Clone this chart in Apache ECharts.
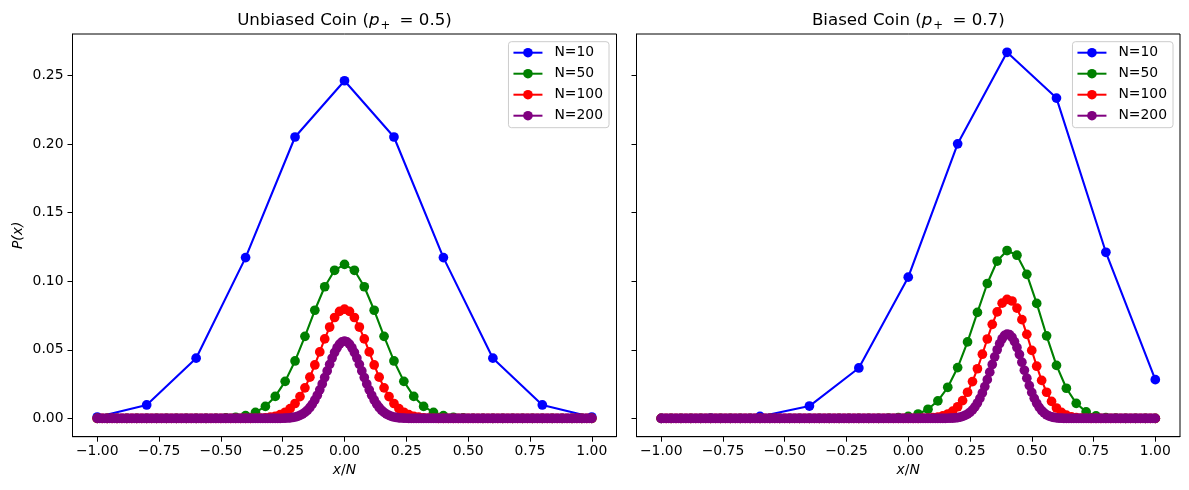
<!DOCTYPE html>
<html><head><meta charset="utf-8">
<script src="https://cdn.jsdelivr.net/npm/echarts@6/dist/echarts.min.js"></script>
<style>html,body{margin:0;padding:0;background:#fff}#c{width:1189px;height:490px}</style>
</head><body><div id="c"></div>
<script>
// ---------- data ----------
const SERIES_NAMES = ['N=10', 'N=50', 'N=100', 'N=200'];
const SERIES_COLORS = ['#0000ff', '#008000', '#ff0000', '#800080'];
const X_TICKS = [-1, -0.75, -0.5, -0.25, 0, 0.25, 0.5, 0.75, 1];
const Y_TICKS = [0, 0.05, 0.1, 0.15, 0.2, 0.25];
const TITLES = ['Unbiased Coin', 'Biased Coin'];
const P_VALUES = ['0.5', '0.7'];

const X10 = [-1,-0.8,-0.6,-0.4,-0.2,0,0.2,0.4,0.6,0.8,1];
const X50 = [
-1,-0.96,-0.92,-0.88,-0.84,-0.8,-0.76,-0.72,-0.68,-0.64,
-0.6,-0.56,-0.52,-0.48,-0.44,-0.4,-0.36,-0.32,-0.28,-0.24,
-0.2,-0.16,-0.12,-0.08,-0.04,0,0.04,0.08,0.12,0.16,
0.2,0.24,0.28,0.32,0.36,0.4,0.44,0.48,0.52,0.56,
0.6,0.64,0.68,0.72,0.76,0.8,0.84,0.88,0.92,0.96,
1];
const X100 = [
-1,-0.98,-0.96,-0.94,-0.92,-0.9,-0.88,-0.86,-0.84,-0.82,
-0.8,-0.78,-0.76,-0.74,-0.72,-0.7,-0.68,-0.66,-0.64,-0.62,
-0.6,-0.58,-0.56,-0.54,-0.52,-0.5,-0.48,-0.46,-0.44,-0.42,
-0.4,-0.38,-0.36,-0.34,-0.32,-0.3,-0.28,-0.26,-0.24,-0.22,
-0.2,-0.18,-0.16,-0.14,-0.12,-0.1,-0.08,-0.06,-0.04,-0.02,
0,0.02,0.04,0.06,0.08,0.1,0.12,0.14,0.16,0.18,
0.2,0.22,0.24,0.26,0.28,0.3,0.32,0.34,0.36,0.38,
0.4,0.42,0.44,0.46,0.48,0.5,0.52,0.54,0.56,0.58,
0.6,0.62,0.64,0.66,0.68,0.7,0.72,0.74,0.76,0.78,
0.8,0.82,0.84,0.86,0.88,0.9,0.92,0.94,0.96,0.98,
1];
const X200 = [
-1,-0.99,-0.98,-0.97,-0.96,-0.95,-0.94,-0.93,-0.92,-0.91,
-0.9,-0.89,-0.88,-0.87,-0.86,-0.85,-0.84,-0.83,-0.82,-0.81,
-0.8,-0.79,-0.78,-0.77,-0.76,-0.75,-0.74,-0.73,-0.72,-0.71,
-0.7,-0.69,-0.68,-0.67,-0.66,-0.65,-0.64,-0.63,-0.62,-0.61,
-0.6,-0.59,-0.58,-0.57,-0.56,-0.55,-0.54,-0.53,-0.52,-0.51,
-0.5,-0.49,-0.48,-0.47,-0.46,-0.45,-0.44,-0.43,-0.42,-0.41,
-0.4,-0.39,-0.38,-0.37,-0.36,-0.35,-0.34,-0.33,-0.32,-0.31,
-0.3,-0.29,-0.28,-0.27,-0.26,-0.25,-0.24,-0.23,-0.22,-0.21,
-0.2,-0.19,-0.18,-0.17,-0.16,-0.15,-0.14,-0.13,-0.12,-0.11,
-0.1,-0.09,-0.08,-0.07,-0.06,-0.05,-0.04,-0.03,-0.02,-0.01,
0,0.01,0.02,0.03,0.04,0.05,0.06,0.07,0.08,0.09,
0.1,0.11,0.12,0.13,0.14,0.15,0.16,0.17,0.18,0.19,
0.2,0.21,0.22,0.23,0.24,0.25,0.26,0.27,0.28,0.29,
0.3,0.31,0.32,0.33,0.34,0.35,0.36,0.37,0.38,0.39,
0.4,0.41,0.42,0.43,0.44,0.45,0.46,0.47,0.48,0.49,
0.5,0.51,0.52,0.53,0.54,0.55,0.56,0.57,0.58,0.59,
0.6,0.61,0.62,0.63,0.64,0.65,0.66,0.67,0.68,0.69,
0.7,0.71,0.72,0.73,0.74,0.75,0.76,0.77,0.78,0.79,
0.8,0.81,0.82,0.83,0.84,0.85,0.86,0.87,0.88,0.89,
0.9,0.91,0.92,0.93,0.94,0.95,0.96,0.97,0.98,0.99,
1];

// Unbiased coin, p+ = 0.5
const U10 = [0.00098,0.0098,0.0439,0.1172,0.2051,0.2461,0.2051,0.1172,0.0439,0.0098,0.00098];
const U50 = [
0,0,0,0,0,0,0,0,0,0.000002,
0.000009,0.000033,0.000108,0.000315,0.000833,0.002,0.004374,0.008748,0.01604,0.02701,
0.04186,0.0598,0.07882,0.09596,0.10795,0.11227,0.10795,0.09596,0.07882,0.0598,
0.04186,0.02701,0.01604,0.008748,0.004374,0.002,0.000833,0.000315,0.000108,0.000033,
0.000009,0.000002,0,0,0,0,0,0,0,0,
0];
const U100 = [
0,0,0,0,0,0,0,0,0,0,
0,0,0,0,0,0,0,0,0,0,
0,0,0,0,0,0,0,0.000002,0.000004,0.00001,
0.000023,0.000052,0.000113,0.000232,0.000458,0.000864,0.00156,0.002698,0.004473,0.007111,
0.010844,0.015869,0.022292,0.030069,0.038953,0.048474,0.057958,0.06659,0.073527,0.078029,
0.079589,
0.078029,0.073527,0.06659,0.057958,0.048474,0.038953,0.030069,0.022292,0.015869,0.010844,
0.007111,0.004473,0.002698,0.00156,0.000864,0.000458,0.000232,0.000113,0.000052,0.000023,
0.00001,0.000004,0.000002,0,0,0,0,0,0,0,
0,0,0,0,0,0,0,0,0,0,
0,0,0,0,0,0,0,0,0,0];
const U200 = [
0,0,0,0,0,0,0,0,0,0,
0,0,0,0,0,0,0,0,0,0,
0,0,0,0,0,0,0,0,0,0,
0,0,0,0,0,0,0,0,0,0,
0,0,0,0,0,0,0,0,0,0,
0,0,0,0,0,0,0,0,0,0,
0,0,0,0,0,0,0,0,0.000002,0.000003,
0.000006,0.000012,0.000021,0.000036,0.000063,0.000105,0.000173,0.000278,0.000439,0.000678,
0.001025,0.001519,0.002204,0.003133,0.004364,0.005956,0.007964,0.010436,0.013401,0.016864,
0.020799,0.025141,0.029787,0.034591,0.039375,0.043934,0.048053,0.05152,0.054149,0.05579,
0.056348,
0.05579,0.054149,0.05152,0.048053,0.043934,0.039375,0.034591,0.029787,0.025141,0.020799,
0.016864,0.013401,0.010436,0.007964,0.005956,0.004364,0.003133,0.002204,0.001519,0.001025,
0.000678,0.000439,0.000278,0.000173,0.000105,0.000063,0.000036,0.000021,0.000012,0.000006,
0.000003,0.000002,0,0,0,0,0,0,0,0,
0,0,0,0,0,0,0,0,0,0,
0,0,0,0,0,0,0,0,0,0,
0,0,0,0,0,0,0,0,0,0,
0,0,0,0,0,0,0,0,0,0,
0,0,0,0,0,0,0,0,0,0,
0,0,0,0,0,0,0,0,0,0];

// Biased coin, p+ = 0.7
const B10 = [0.000006,0.000138,0.001447,0.009002,0.03676,0.10292,0.20012,0.26683,0.23347,0.12106,0.028248];
const B50 = [
0,0,0,0,0,0,0,0,0,0,
0,0,0,0,0,0,0,0,0,0.000002,
0.000008,0.000026,0.000079,0.000226,0.000592,0.001437,0.003223,0.006685,0.01281,0.02268,
0.03704,0.05576,0.07725,0.09832,0.1147,0.12235,0.11895,0.10502,0.08383,0.06019,
0.03862,0.02198,0.01099,0.004771,0.001771,0.000551,0.00014,0.000028,0.000004,0,
0];
const B100 = [
0,0,0,0,0,0,0,0,0,0,
0,0,0,0,0,0,0,0,0,0,
0,0,0,0,0,0,0,0,0,0,
0,0,0,0,0,0,0,0,0,0,
0,0,0,0,0,0,0,0,0.000002,0.000006,
0.000013,0.00003,0.000066,0.000139,0.000281,0.000549,0.001029,0.001853,0.003206,0.005325,
0.008491,0.01299,0.01907,0.02683,0.0362,0.04678,0.05788,0.06854,0.07761,0.08398,
0.08678,0.08556,0.08041,0.07197,0.06127,0.04956,0.03804,0.02767,0.01904,0.01237,
0.007577,0.004365,0.00236,0.001194,0.000564,0.000248,0.000101,0.000038,0.000013,0.000004,
0.000001,0,0,0,0,0,0,0,0,0,
0];
const B200 = [
0,0,0,0,0,0,0,0,0,0,
0,0,0,0,0,0,0,0,0,0,
0,0,0,0,0,0,0,0,0,0,
0,0,0,0,0,0,0,0,0,0,
0,0,0,0,0,0,0,0,0,0,
0,0,0,0,0,0,0,0,0,0,
0,0,0,0,0,0,0,0,0,0,
0,0,0,0,0,0,0,0,0,0,
0,0,0,0,0,0,0,0,0,0,
0,0,0,0,0,0,0,0,0,0,
0,0,0,0,0,0,0,0,0,0,
0.000003,0.000005,0.000009,0.000017,0.00003,0.000053,0.00009,0.000151,0.000248,0.000399,
0.000628,0.000969,0.001465,0.002167,0.00314,0.004455,0.006187,0.008412,0.01119,0.01458,
0.01858,0.02316,0.02825,0.0337,0.03932,0.04486,0.05003,0.05453,0.05808,0.06045,
0.06146,0.06102,0.05916,0.05599,0.05171,0.0466,0.04096,0.03511,0.02934,0.02389,
0.01895,0.01464,0.01101,0.008062,0.005741,0.003976,0.002676,0.00175,0.001111,0.000685,
0.00041,0.000237,0.000133,0.000073,0.000038,0.000019,0.00001,0.000005,0.000002,0,
0,0,0,0,0,0,0,0,0,0,
0,0,0,0,0,0,0,0,0,0,
0,0,0,0,0,0,0,0,0,0,
0];

const XS = [X10, X50, X100, X200];
const PANELS = [[U10, U50, U100, U200], [B10, B50, B100, B200]];

// ---------- chart ----------
PANELS.forEach(p => p.forEach((ys, i) => {
  if (ys.length !== XS[i].length) throw new Error('length mismatch ' + i + ': ' + ys.length + ' vs ' + XS[i].length);
}));

const FONT = 'DejaVu Sans';
const fmt = v => v.toFixed(2).replace('-', '\u2212');
const GRIDS = [
  { left: 72.5, top: 34, width: 544, height: 402.7 },
  { left: 636.5, top: 34, width: 543.5, height: 402.7 }
];

function mkX(i) {
  return {
    type: 'value', gridIndex: i, min: -1.1, max: 1.1,
    axisLine: { show: true, onZero: false, lineStyle: { color: '#000', width: 1 } },
    axisTick: { show: true, length: 5, lineStyle: { color: '#000', width: 1 }, customValues: X_TICKS },
    axisLabel: { customValues: X_TICKS, formatter: fmt, color: '#000', fontSize: 13.9, fontFamily: FONT, margin: 8 },
    splitLine: { show: false },
    name: '{i|x}/{i|N}', nameLocation: 'middle', nameGap: 21,
    nameTextStyle: { color: '#000', fontSize: 13.9, fontFamily: FONT,
      rich: { i: { fontStyle: 'italic', fontSize: 13.9, fontFamily: FONT, color: '#000' } } }
  };
}
function mkY(i, labels) {
  const y = {
    type: 'value', gridIndex: i, min: -0.01334, max: 0.28017,
    axisLine: { show: true, onZero: false, lineStyle: { color: '#000', width: 1 } },
    axisTick: { show: true, length: 5, lineStyle: { color: '#000', width: 1 }, customValues: Y_TICKS },
    axisLabel: { show: labels, customValues: Y_TICKS, formatter: fmt, color: '#000', fontSize: 13.9, fontFamily: FONT, margin: 9 },
    splitLine: { show: false }
  };
  if (labels) {
    Object.assign(y, {
      name: '{i|P}(x)', nameLocation: 'middle', nameGap: 47, nameRotate: 90,
      nameTextStyle: { color: '#000', fontSize: 13.9, fontFamily: FONT, fontStyle: 'italic',
        rich: { i: { fontStyle: 'italic', fontSize: 13.9, fontFamily: FONT, color: '#000' } } }
    });
  }
  return y;
}
function mkLegend(right) {
  return {
    orient: 'vertical', right: right, top: 41.7, data: SERIES_NAMES,
    itemWidth: 29, itemHeight: 12, itemGap: 7, padding: [4, 6, 5, 4],
    backgroundColor: 'rgba(255,255,255,0.8)', borderColor: '#cccccc', borderWidth: 1, borderRadius: 3,
    textStyle: { fontSize: 13.9, fontFamily: FONT, color: '#000', padding: [0, 0, 0, 7], lineHeight: 14 },
    selectedMode: false
  };
}

const series = [];
PANELS.forEach((panel, gi) => {
  panel.forEach((ys, si) => {
    const xs = XS[si];
    const c = SERIES_COLORS[si];
    series.push({
      type: 'line', name: SERIES_NAMES[si], xAxisIndex: gi, yAxisIndex: gi,
      data: xs.map((x, k) => [x, ys[k]]),
      symbol: 'circle', symbolSize: 9.7, showSymbol: true, showAllSymbol: true,
      color: c, lineStyle: { width: 2.1, color: c }, itemStyle: { color: c },
      emphasis: { disabled: true }, silent: true, z: 2 + si
    });
  });
});

const titleGraphics = TITLES.map((t, i) => ({
  type: 'text',
  x: GRIDS[i].left + GRIDS[i].width / 2, y: 21,
  style: {
    text: '{n|' + t + ' (}{i|p}{s|+}{n| = ' + P_VALUES[i] + ')}',
    rich: {
      n: { fontSize: 16.67, fontFamily: FONT, fill: '#000' },
      i: { fontSize: 16.67, fontFamily: FONT, fontStyle: 'italic', fill: '#000' },
      s: { fontSize: 11.7, fontFamily: FONT, fill: '#000', padding: [9, 4, 0, 1] }
    },
    fill: '#000', align: 'center', verticalAlign: 'middle', font: '16.67px "DejaVu Sans"'
  }
}));

const chart = echarts.init(document.getElementById('c'), null, { renderer: 'canvas' });
chart.setOption({
  animation: false,
  backgroundColor: '#fff',
  textStyle: { fontFamily: FONT },
  grid: GRIDS.map(g => Object.assign({ show: true, borderColor: '#000', borderWidth: 1, backgroundColor: 'transparent', containLabel: false }, g)),
  xAxis: [mkX(0), mkX(1)],
  yAxis: [mkY(0, true), mkY(1, false)],
  legend: [mkLegend(580), mkLegend(16)],
  graphic: titleGraphics,
  series: series
});
</script>
</body></html>
